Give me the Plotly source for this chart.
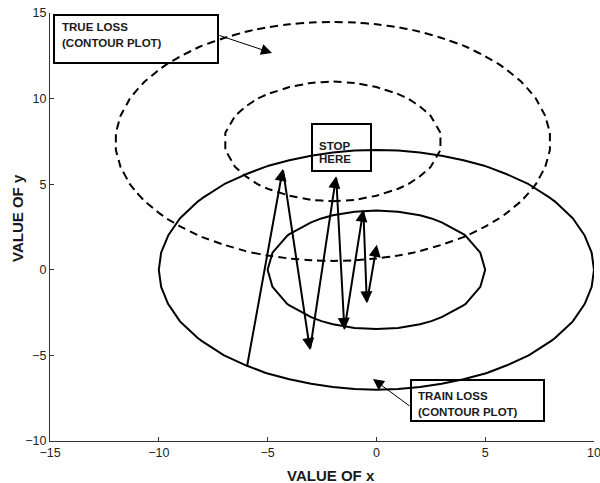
import numpy as np
import plotly.graph_objects as go

# ---- data ----
# Both losses are quadratic bowls: loss = (x-cx)^2 + ((y-cy)/ratio)^2
train_center = [0.0, 0.0]
true_center = [-2.0, 7.5]
axis_ratio = 0.7
loss_levels = [25, 100]

# optimisation trajectory (each step drawn as an arrow)
path_x = [-5.96, -4.30, -3.05, -1.85, -1.47, -0.60, -0.44, 0.02]
path_y = [-5.75, 5.89, -4.68, 5.46, -3.51, 3.51, -1.95, 1.46]

x_ticks = [-15, -10, -5, 0, 5, 10]
y_ticks = [-10, -5, 0, 5, 10, 15]

labels_true = ["TRUE LOSS", "(CONTOUR PLOT)"]
labels_train = ["TRAIN LOSS", "(CONTOUR PLOT)"]
labels_stop = ["STOP", "HERE"]

# ---- grid for the contour plots ----
gx = np.arange(-17, 13, 1.0)
gy = np.arange(-12, 18, 1.0)
X, Y = np.meshgrid(gx, gy)


def loss(c):
    return (X - c[0]) ** 2 + ((Y - c[1]) / axis_ratio) ** 2


FONT = "Liberation Sans, Arial, Helvetica, sans-serif"

fig = go.Figure()
contour_cfg = dict(coloring="none", start=loss_levels[0], end=loss_levels[-1],
                   size=loss_levels[-1] - loss_levels[0])
fig.add_trace(go.Contour(x=gx, y=gy, z=loss(true_center), contours=contour_cfg,
                         line=dict(color="black", width=2, dash="8px,5px", smoothing=0),
                         showscale=False, hoverinfo="skip", name="True loss"))
fig.add_trace(go.Contour(x=gx, y=gy, z=loss(train_center), contours=contour_cfg,
                         line=dict(color="black", width=2, smoothing=0),
                         showscale=False, hoverinfo="skip", name="Train loss"))

annotations = []
# trajectory arrows
for i in range(len(path_x) - 1):
    annotations.append(dict(x=path_x[i + 1], y=path_y[i + 1], ax=path_x[i], ay=path_y[i],
                            xref="x", yref="y", axref="x", ayref="y", text="",
                            showarrow=True, arrowhead=2, arrowsize=1.2, arrowwidth=2,
                            arrowcolor="black", standoff=0))


# pixel -> paper coordinates (plot area spans x 50..594, y 13..441)
def px2paper(px, py):
    return (px - 50) / 544.0, (441 - py) / 428.0


def add_box(x0, y0, x1, y1):
    a0, b1 = px2paper(x0, y0)
    a1, b0 = px2paper(x1, y1)
    fig.add_shape(type="rect", xref="paper", yref="paper", x0=a0, x1=a1, y0=b0, y1=b1,
                  line=dict(color="black", width=2), fillcolor="rgba(0,0,0,0)")


def add_lines(lines, px, pys, size=11.5):
    for t, py in zip(lines, pys):
        a, b = px2paper(px, py)
        annotations.append(dict(x=a, y=b, xref="paper", yref="paper", text="<b>%s</b>" % t,
                                showarrow=False, xanchor="left", yanchor="middle",
                                font=dict(family=FONT, size=size, color="#1a1a1a")))


add_box(54, 15, 218, 63)
add_lines(labels_true, 60, [27, 43])
add_box(312, 124, 371, 171)
add_lines(labels_stop, 317, [146, 159])
add_box(411, 380, 544, 421)
add_lines(labels_train, 416, [396, 412])

# pointer arrows
for tip, tail in [((272, 53), (218, 35)), ((373, 379), (411, 407))]:
    a, b = px2paper(*tip)
    annotations.append(dict(x=a, y=b, xref="paper", yref="paper", text="",
                            ax=tail[0] - tip[0], ay=tail[1] - tip[1],
                            showarrow=True, arrowhead=2, arrowsize=2.2, arrowwidth=1,
                            arrowcolor="black", standoff=0))

# axis titles
a, b = px2paper(331, 475)
annotations.append(dict(x=a, y=b, xref="paper", yref="paper", text="<b>VALUE OF x</b>",
                        showarrow=False, xanchor="center", yanchor="middle",
                        font=dict(family=FONT, size=15, color="#1a1a1a")))
a, b = px2paper(17, 218)
annotations.append(dict(x=a, y=b, xref="paper", yref="paper", text="<b>VALUE OF y</b>",
                        showarrow=False, xanchor="center", yanchor="middle", textangle=-90,
                        font=dict(family=FONT, size=15, color="#1a1a1a")))

axis_common = dict(ticks="inside", ticklen=4, tickwidth=1, tickcolor="#333",
                   showline=True, linecolor="#333", linewidth=1, showgrid=False,
                   zeroline=False, mirror=False, automargin=False,
                   ticklabeloverflow="allow",
                   tickfont=dict(family=FONT, size=12.5, color="#222"))

fig.update_layout(
    width=600, height=483,
    margin=dict(l=50, r=6, t=13, b=42, autoexpand=False),
    paper_bgcolor="white", plot_bgcolor="white",
    showlegend=False,
    xaxis=dict(range=[-15, 10], tickvals=x_ticks, **axis_common),
    yaxis=dict(range=[-10, 15], tickvals=y_ticks, **axis_common),
    annotations=annotations,
)

# remove the browser's default 8px page margin so the figure fills the window
fig.write_html("out.html", config={"displayModeBar": False},
               post_script="document.body.style.margin='0px';")
